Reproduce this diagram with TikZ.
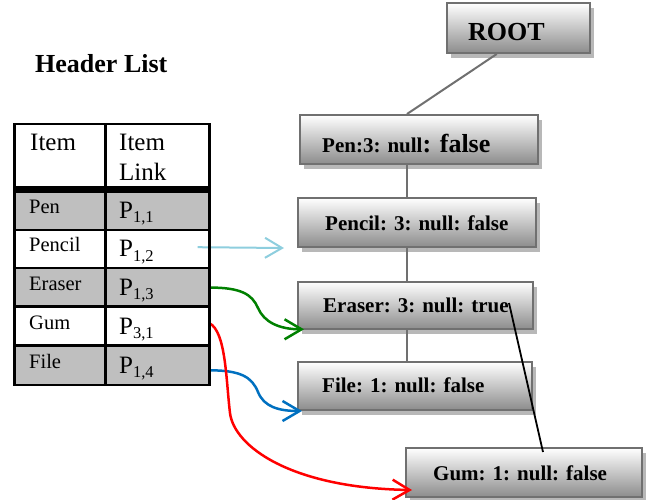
\documentclass[tikz,border=0pt]{standalone}
\usepackage{fontspec}
\setmainfont{Liberation Serif}
\usetikzlibrary{arrows.meta,shadows,calc}

\definecolor{cellgray}{RGB}{191,191,191}
\definecolor{boxedge}{RGB}{112,112,112}
\definecolor{boxdark}{RGB}{140,140,140}
\definecolor{linkgreen}{RGB}{0,128,0}
\definecolor{linkblue}{RGB}{0,112,192}
\definecolor{linkcyan}{RGB}{142,206,222}
\definecolor{linkred}{RGB}{255,0,0}

\tikzset{
  recbox/.style={draw=boxedge, line width=2pt, top color=white, bottom color=boxdark,
    inner sep=0pt, drop shadow={shadow xshift=4pt, shadow yshift=-5pt, fill=black!28, opacity=1}},
  rectext/.style={anchor=base west, inner sep=0pt, font=\fontsize{21}{24}\selectfont\bfseries},
  treeline/.style={draw=boxedge, line width=2pt},
  cell/.style={inner sep=0pt, anchor=north west},
  itemtext/.style={anchor=base west, inner sep=0pt, font=\fontsize{20.5}{24}\selectfont},
  headtext/.style={anchor=base west, inner sep=0pt, font=\fontsize{25}{30}\selectfont},
  linktext/.style={anchor=base west, inner sep=0pt, font=\fontsize{25}{30}\selectfont},
  link/.style={line width=2.5pt, -{Straight Barb[length=17pt,width=20pt]}},
  gridline/.style={line width=2.7pt},
}
\newcommand{\Pidx}[1]{P\raisebox{-4.4pt}{\fontsize{16.5}{18}\selectfont #1}}

\begin{document}
\begin{tikzpicture}[x=1pt,y=-1pt]
\useasboundingbox (0,0) rectangle (649,499);

% ---- record boxes ----
\node[recbox, minimum width=143pt, minimum height=50pt] (root)   at (518.5,28)    {};
\node[recbox, minimum width=238pt, minimum height=49pt] (pen)    at (419,139.5)   {};
\node[recbox, minimum width=238pt, minimum height=49pt] (pencil) at (417,222.5)   {};
\node[recbox, minimum width=235pt, minimum height=47.6pt] (eraser) at (415.5,305.5) {};
\node[recbox, minimum width=234pt, minimum height=48pt] (file)   at (415,386)     {};
\node[recbox, minimum width=236pt, minimum height=49pt] (gum)    at (524,472.5)   {};

\node[anchor=base west, inner sep=0pt, font=\fontsize{26}{30}\selectfont\bfseries] (root-t) at (468,40) {ROOT};
\node[anchor=base west, inner sep=0pt, font=\bfseries] (pen-t) at (322,152.7)
  {{\fontsize{21}{24}\selectfont Pen:3: null}{\fontsize{26}{30}\selectfont : false}};
\node[rectext] (pencil-t) at (325,230)   {Pencil: 3: null: false};
\node[rectext] (eraser-t) at (323,312)   {Eraser: 3: null: true};
\node[rectext] (file-t)   at (322,392.5) {File: 1: null: false};
\node[rectext] (gum-t)    at (433,480)   {Gum: 1: null: false};

% ---- tree connectors ----
\coordinate (spine) at (407,0);
\draw[treeline] ($(root.south west)!0.35!(root.south east)$) -- (pen.north -| spine);
\draw[treeline] (pen.south -| spine) -- (pencil.north -| spine);
\draw[treeline] (pencil.south -| spine) -- (eraser.north -| spine);
\draw[treeline] (eraser.south -| spine) -- (file.north -| spine);
\draw[line width=1.8pt] ($(eraser.east)+(-25,-2.5)$) -- ($(gum.north)+(19,5)$);

% ---- header list ----
\node[anchor=base west, inner sep=0pt, font=\fontsize{26}{30}\selectfont\bfseries] (title) at (35,72.7) {Header List};

\node[cell, fill=white,    minimum width=90.6pt,  minimum height=65pt]   (head-i) at (14.7,124)   {};
\node[cell, fill=white,    minimum width=103.9pt, minimum height=65pt]   (head-l) at (105.3,124)  {};
\node[cell, fill=cellgray, minimum width=90.6pt,  minimum height=41pt]   (pen-i)  at (14.7,189)   {};
\node[cell, fill=cellgray, minimum width=103.9pt, minimum height=41pt]   (p11)    at (105.3,189)  {};
\node[cell, fill=white,    minimum width=90.6pt,  minimum height=38pt]   (pencil-i) at (14.7,230) {};
\node[cell, fill=white,    minimum width=103.9pt, minimum height=38pt]   (p12)    at (105.3,230)  {};
\node[cell, fill=cellgray, minimum width=90.6pt,  minimum height=38.7pt] (eraser-i) at (14.7,268) {};
\node[cell, fill=cellgray, minimum width=103.9pt, minimum height=38.7pt] (p13)    at (105.3,268)  {};
\node[cell, fill=white,    minimum width=90.6pt,  minimum height=38.8pt] (gum-i)  at (14.7,306.7) {};
\node[cell, fill=white,    minimum width=103.9pt, minimum height=38.8pt] (p31)    at (105.3,306.7) {};
\node[cell, fill=cellgray, minimum width=90.6pt,  minimum height=39.2pt] (file-i) at (14.7,345.5) {};
\node[cell, fill=cellgray, minimum width=103.9pt, minimum height=39.2pt] (p14)    at (105.3,345.5) {};

% ---- links from the header list into the tree ----
\draw[link, linkcyan, line width=2pt] ($(p12.east)+(-12,-2)$) -- ($(pencil.south west)+(-13,0)$);
\draw[link, linkgreen] (p13.east) .. controls +(31,0) and +(-6,-14) .. (258,308)
  .. controls +(6,14) and +(-25,0) .. ($(eraser.south west)+(7,-1)$);
\draw[link, linkblue] ($(p14.east)+(0,5)$) .. controls +(31,0) and +(-6,-15) .. (258,392)
  .. controls +(6,15) and +(-23,0) .. ($(file.south west)+(5,0)$);
\draw[link, linkred] ($(p31.east)+(0,-3)$) .. controls (226,332) and (226,380) .. (230,413)
  .. controls (234,446) and (290,488) .. ($(gum.west)+(7,17.5)$);

% ---- table rules ----
\draw[gridline] (head-i.north west) rectangle (p14.south east);
\draw[gridline] (head-l.north west) -- (p14.south west);
\draw[line width=7pt] (pen-i.north west) -- (p11.north east);
\draw[gridline] (pencil-i.north west) -- (p12.north east);
\draw[gridline] (eraser-i.north west) -- (p13.north east);
\draw[gridline] (gum-i.north west) -- (p31.north east);
\draw[gridline] (file-i.north west) -- (p14.north east);

% ---- table text ----
\node[headtext] (h1)  at (30,150)  {Item};
\node[headtext] (h2a) at (119,150) {Item};
\node[headtext] (h2b) at (119,180) {Link};
\node[itemtext] (t-pen)    at (29,213)   {Pen};
\node[itemtext] (t-pencil) at (29,251.7) {Pencil};
\node[itemtext] (t-eraser) at (29,290)   {Eraser};
\node[itemtext] (t-gum)    at (29,329)   {Gum};
\node[itemtext] (t-file)   at (29,368)   {File};
\node[linktext] (l11) at (119,218.3) {\Pidx{1,1}};
\node[linktext] (l12) at (119,256.7) {\Pidx{1,2}};
\node[linktext] (l13) at (119,295)   {\Pidx{1,3}};
\node[linktext] (l31) at (119,334)   {\Pidx{3,1}};
\node[linktext] (l14) at (119,373)   {\Pidx{1,4}};
\end{tikzpicture}
\end{document}
